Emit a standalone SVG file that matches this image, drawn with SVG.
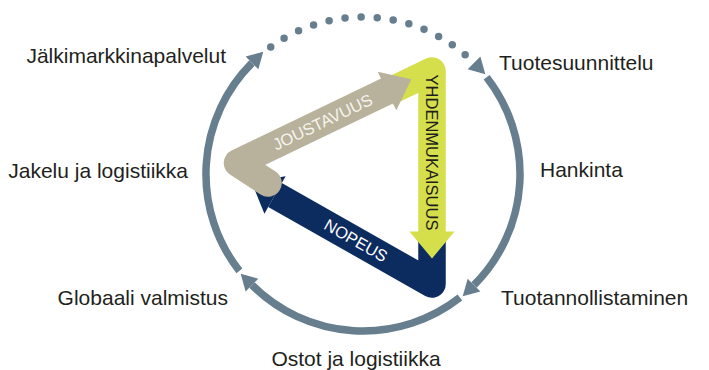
<svg xmlns="http://www.w3.org/2000/svg" width="709" height="370" viewBox="0 0 709 370">
  <style>
    .ring { fill: none; stroke: #667e8e; stroke-width: 7.5; }
    .dots { fill: none; stroke: #667e8e; stroke-width: 7.5; stroke-linecap: round; stroke-dasharray: 0 16.12; }
    .head { fill: #667e8e; stroke: none; }
    .lbl { font-family: "Liberation Sans", Arial, sans-serif; font-size: 21px; fill: #231f20; }
    .band { font-family: "Liberation Sans", Arial, sans-serif; font-size: 16.5px; text-anchor: middle; }
  </style>

  <g id="connectors">
    <path class="ring" d="M486.6,77.2 A157,157 0 0 1 474.02,285.02"/>
    <path class="ring" d="M459.9,297.5 A157,157 0 0 1 251.98,285.02"/>
    <path class="ring" d="M239.4,270.9 A157,157 0 0 1 251.98,62.98"/>
    <path class="dots" d="M270.72,46.99 A157,157 0 0 1 474.02,62.98"/>
    <polygon class="head" points="480.38,56.62 485.33,74.29 467.66,69.34"/>
    <polygon class="head" points="480.38,291.38 462.71,296.33 467.66,278.66"/>
    <polygon class="head" points="245.62,291.38 240.67,273.71 258.34,278.66"/>
    <polygon class="head" points="245.62,56.62 263.29,51.67 258.34,69.34"/>
  </g>

  <g id="nopeus">
    <path d="M275,195 L432,284 L432,236" fill="none" stroke="#0c2b5f" stroke-width="27.5" stroke-linejoin="round"/>
    <polygon points="285.6,176.3 264.4,213.7 251.5,181.7" fill="#0c2b5f"/>
    <text class="band" transform="translate(356,240.5) rotate(29.55)" y="5.8" fill="#ffffff">NOPEUS</text>
  </g>

  <g id="yhdenmukaisuus">
    <path d="M387,92.7 L432,71 L432,232" fill="none" stroke="#d5df4c" stroke-width="27.5" stroke-linejoin="round"/>
    <polygon points="409.5,231.5 454.5,231.5 432,258.5" fill="#d5df4c"/>
    <text class="band" transform="translate(432,152.5) rotate(90)" y="5.8" fill="#1e1e1e">YHDENMUKAISUUS</text>
  </g>

  <g id="joustavuus">
    <path d="M268,183 L237.5,163 L387,91" fill="none" stroke="#b8b19b" stroke-width="27.5" stroke-linejoin="round" stroke-linecap="round"/>
    <polygon points="377.67,71.63 411.33,79.28 396.33,110.37" fill="#b8b19b"/>
    <text class="band" transform="translate(322.5,122) rotate(-25.7)" y="5.8" fill="#f6f4ee">JOUSTAVUUS</text>
  </g>

  <g id="jalkimarkkinapalvelut"><text class="lbl" x="226" y="63" text-anchor="end">Jälkimarkkinapalvelut</text></g>
  <g id="tuotesuunnittelu"><text class="lbl" x="499" y="70">Tuotesuunnittelu</text></g>
  <g id="jakelu"><text class="lbl" x="188" y="178" text-anchor="end">Jakelu ja logistiikka</text></g>
  <g id="hankinta"><text class="lbl" x="540" y="177">Hankinta</text></g>
  <g id="globaali"><text class="lbl" x="228" y="305" text-anchor="end">Globaali valmistus</text></g>
  <g id="tuotannollistaminen"><text class="lbl" x="501" y="305">Tuotannollistaminen</text></g>
  <g id="ostot"><text class="lbl" x="356" y="366" text-anchor="middle">Ostot ja logistiikka</text></g>
</svg>
